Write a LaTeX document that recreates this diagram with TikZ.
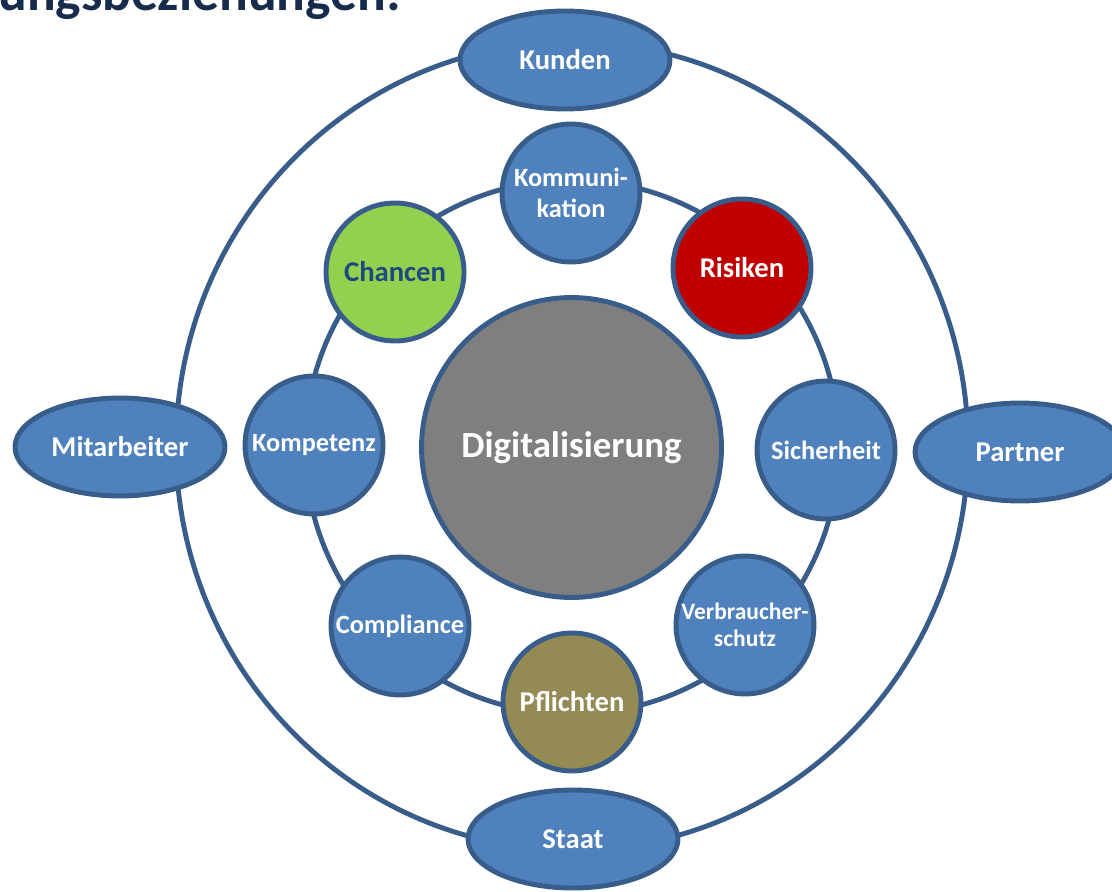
\documentclass[tikz,border=0pt]{standalone}
\usepackage{fontspec}
\setmainfont{Carlito}
\usetikzlibrary{shapes.geometric}
\definecolor{randblau}{HTML}{385D8A}
\definecolor{flaeche}{HTML}{4F81BD}
\definecolor{gruen}{HTML}{92D050}
\definecolor{rot}{HTML}{C00000}
\definecolor{oliv}{HTML}{948A54}
\definecolor{grau}{HTML}{7F7F7F}
\definecolor{dunkelblau}{HTML}{1F497D}
\definecolor{titelblau}{HTML}{172B4D}

\begin{document}
\begin{tikzpicture}[x=0.02cm, y=-0.02cm,
  ring/.style={draw=randblau, line width=2.8pt},
  partei/.style={ellipse, draw=randblau, line width=2.8pt, fill=flaeche, text=white,
    minimum width=4.2cm, minimum height=1.96cm, inner sep=0pt,
    font=\bfseries\fontsize{16.3}{19}\selectfont},
  thema/.style={circle, draw=randblau, line width=2.8pt, fill=flaeche, text=white,
    minimum size=2.76cm, inner sep=0pt, align=center,
    font=\bfseries\fontsize{15}{18}\selectfont},
  titel/.style={text=titelblau, inner sep=0pt, font=\bfseries\fontsize{30.5}{34}\selectfont}]
\useasboundingbox (0,0) rectangle (1112,892);

% Rest der Ueberschrift
\node[titel, anchor=base west] (titel) at (-2,11) {ungsbeziehungen:};

% Ringe
\coordinate (aussen) at (572,446);
\coordinate (innen) at (572,447);
\draw[ring] (aussen) ellipse [x radius=396, y radius=404];
\draw[ring] (innen) circle [radius=267];

% aeussere Partner
\node[partei] (kunden) at (565,60){Kunden};
\node[partei] (partner) at (1020,452){Partner};
\node[partei] (staat) at (573,839){Staat};
\node[partei] (mitarb) at (120,447){Mitarbeiter};

% Themen auf dem inneren Ring
\node[thema] (komm) at (571,193){Kommuni-\\kation};
\node[thema, fill=rot] (risiken) at (742,268){\fontsize{16.3}{19}\selectfont Risiken};
\node[thema] (sicher) at (826,450){Sicherheit};
\node[thema, font=\bfseries\fontsize{13.4}{15.5}\selectfont] (verbr) at (745,625){Verbraucher-\\schutz};
\node[thema, fill=oliv] (pflicht) at (572,702){\fontsize{16.3}{19}\selectfont Pflichten};
\node[thema] (compl) at (400,626){Compliance};
\node[thema] (kompet) at (314,445){Kompetenz};
\node[thema, fill=gruen, text=dunkelblau] (chancen) at (395,272){\fontsize{16.3}{19}\selectfont Chancen};

% Mitte
\node[circle, draw=randblau, line width=2.8pt, fill=grau, text=white, minimum size=6cm,
  inner sep=0pt, font=\bfseries\fontsize{21}{25}\selectfont] (digital) at (571.5,447.5){Digitalisierung};

\end{tikzpicture}
\end{document}
